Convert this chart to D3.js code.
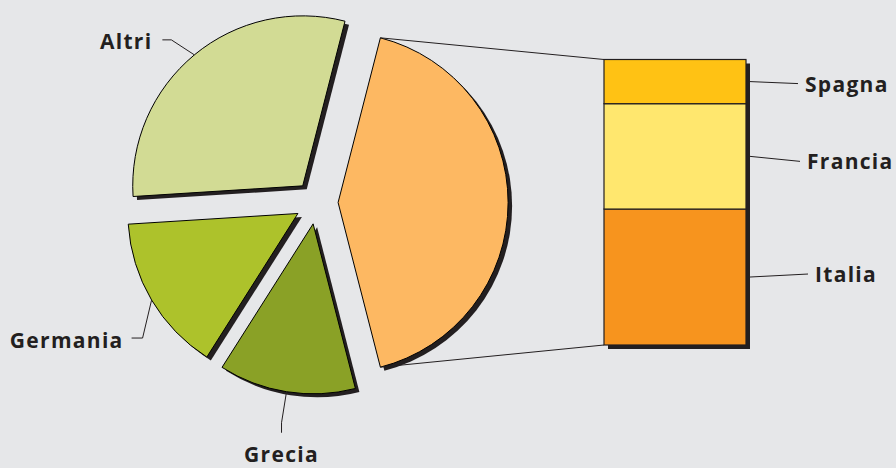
<!DOCTYPE html>
<html>
<head>
<meta charset="utf-8">
<title>Pie of bar</title>
<script src="https://cdn.jsdelivr.net/npm/d3@7"></script>
<style>
	body { margin: 0; background: #e6e7e9; }
	svg text { font-family: "Open Sans", "Noto Sans", sans-serif; font-weight: bold; font-size: 21px; fill: #231f20; letter-spacing: 1.3px; }
</style>
</head>
<body>
<script>
	// dati
	const pieLabels = ['Grecia', 'Germania', 'Altri'];
	const pieValues = [13, 15, 30];
	const barLabels = ['Italia', 'Francia', 'Spagna'];
	const barValues = [20, 15.5, 6.5];
	const pieColors = ['#8aa126', '#adc22b', '#d2db94'];
	const groupColor = '#fdb862';
	const barColors = ['#f7941e', '#ffe76e', '#ffc214'];

	const W = 896, H = 468;
	const cx = 316.5, cy = 202.5, R = 170, explode = 21.6;
	const shadow = '#231f20';

	const svg = d3.select('body').append('svg')
		.attr('width', W).attr('height', H);
	svg.append('rect').attr('width', W).attr('height', H).attr('fill', '#e6e7e9');

	// slice 0 = gruppo (barra), poi gli altri in senso orario
	const groupTotal = d3.sum(barValues);
	const total = groupTotal + d3.sum(pieValues);
	const groupAngle = groupTotal / total * 2 * Math.PI;
	const slices = [{ name: 'gruppo', value: groupTotal, color: groupColor }]
		.concat(pieLabels.map((n, i) => ({ name: n, value: pieValues[i], color: pieColors[i] })));

	const pie = d3.pie().sort(null).value(d => d.value)
		.startAngle(Math.PI / 2 - groupAngle / 2)
		.endAngle(Math.PI / 2 - groupAngle / 2 + 2 * Math.PI);
	const arcs = pie(slices);
	const arc = d3.arc().innerRadius(0).outerRadius(R);

	function dir(a) { return [Math.sin(a), -Math.cos(a)]; }

	arcs.forEach(a => {
		const mid = (a.startAngle + a.endAngle) / 2;
		const d = dir(mid);
		a.ox = cx + d[0] * explode;
		a.oy = cy + d[1] * explode;
		a.mid = mid;
	});

	// ombre
	svg.selectAll('path.shadow').data(arcs).enter().append('path')
		.attr('class', 'shadow')
		.attr('d', arc)
		.attr('fill', shadow)
		.attr('transform', a => 'translate(' + (a.ox + 4) + ',' + (a.oy + 3.5) + ')');

	svg.selectAll('path.slice').data(arcs).enter().append('path')
		.attr('class', 'slice')
		.attr('d', arc)
		.attr('fill', a => a.data.color)
		.attr('stroke', '#000')
		.attr('stroke-width', 1)
		.attr('stroke-linejoin', 'miter')
		.attr('transform', a => 'translate(' + a.ox + ',' + a.oy + ')');

	// barra
	const bx0 = 604, bx1 = 746;
	const yScale = d3.scaleLinear().domain([0, groupTotal]).range([345, 59.5]);
	const stack = [];
	let acc = 0;
	barValues.forEach((v, i) => { stack.push({ name: barLabels[i], y0: acc, y1: acc + v, color: barColors[i] }); acc += v; });

	// linee di collegamento
	const g0 = arcs[0];
	const pTop = [g0.ox + dir(g0.startAngle)[0] * R, g0.oy + dir(g0.startAngle)[1] * R];
	const pBot = [g0.ox + dir(g0.endAngle)[0] * R, g0.oy + dir(g0.endAngle)[1] * R];
	svg.append('line').attr('x1', pTop[0]).attr('y1', pTop[1]).attr('x2', bx0).attr('y2', yScale(groupTotal))
		.attr('stroke', '#231f20').attr('stroke-width', 1);
	svg.append('line').attr('x1', pBot[0]).attr('y1', pBot[1]).attr('x2', bx0).attr('y2', yScale(0))
		.attr('stroke', '#231f20').attr('stroke-width', 1);

	svg.append('rect')
		.attr('x', bx0 + 4).attr('y', yScale(groupTotal) + 4)
		.attr('width', bx1 - bx0).attr('height', yScale(0) - yScale(groupTotal))
		.attr('fill', shadow);

	svg.selectAll('rect.seg').data(stack).enter().append('rect')
		.attr('class', 'seg')
		.attr('x', bx0).attr('y', d => yScale(d.y1))
		.attr('width', bx1 - bx0).attr('height', d => yScale(d.y0) - yScale(d.y1))
		.attr('fill', d => d.color)
		.attr('stroke', '#231f20').attr('stroke-width', 1.2);

	// etichette barra
	const barLead = [58, 50, 48];
	const barTilt = [-3, 5, 2];
	stack.forEach((d, i) => {
		const ym = (yScale(d.y0) + yScale(d.y1)) / 2;
		const x2 = bx1 + 4 + barLead[i];
		svg.append('line').attr('x1', bx1 + 4).attr('y1', ym).attr('x2', x2).attr('y2', ym + barTilt[i])
			.attr('stroke', '#231f20').attr('stroke-width', 1);
		svg.append('text').attr('x', x2 + 7).attr('y', ym + barTilt[i] + 8).text(d.name);
	});

	// etichette torta: gomito e testo relativi al punto sull'arco
	const pieLead = {
		'Altri':    { elbow: [-23, -15], end: [-9, 0], text: [-10, 9], anchor: 'end' },
		'Germania': { elbow: [-9, 38], end: [-11, 0], text: [-8, 10], anchor: 'end' },
		'Grecia':   { elbow: [-5, 31], end: [0, 10], text: [0, 29], anchor: 'middle' }
	};
	arcs.slice(1).forEach(a => {
		const L = pieLead[a.data.name];
		const d = dir(a.mid);
		const p = [a.ox + d[0] * R, a.oy + d[1] * R];
		const e = [p[0] + L.elbow[0], p[1] + L.elbow[1]];
		const f = [e[0] + L.end[0], e[1] + L.end[1]];
		svg.append('path').attr('d', d3.line()([p, e, f]))
			.attr('fill', 'none').attr('stroke', '#231f20').attr('stroke-width', 1);
		svg.append('text').attr('x', f[0] + L.text[0]).attr('y', f[1] + L.text[1])
			.attr('text-anchor', L.anchor).text(a.data.name);
	});
</script>
</body>
</html>
